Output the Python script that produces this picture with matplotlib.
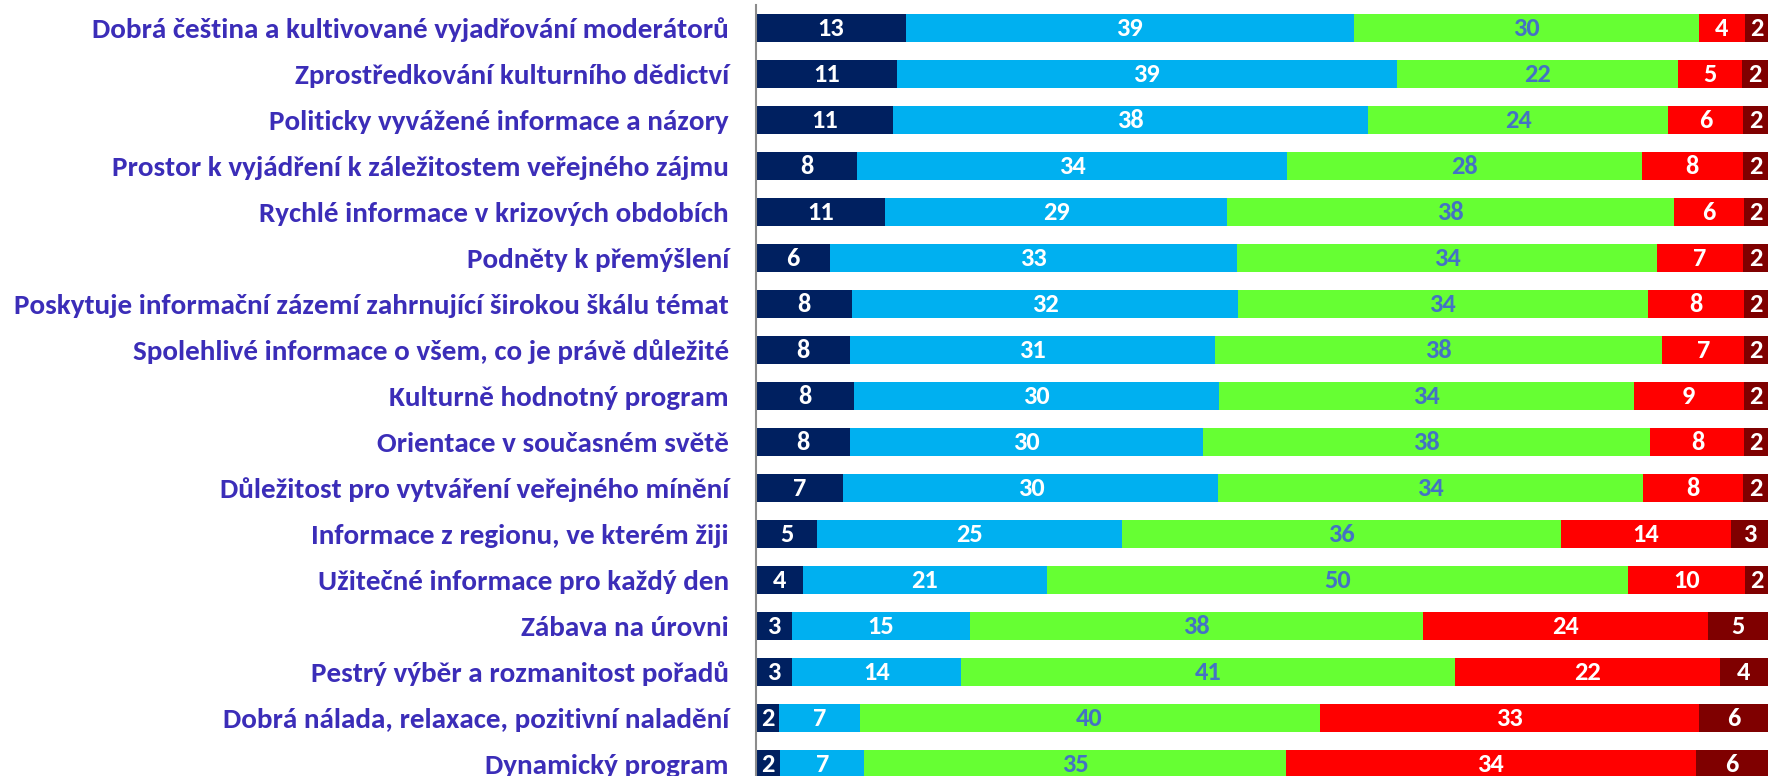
import matplotlib
matplotlib.use("Agg")
import matplotlib.pyplot as plt
from matplotlib import font_manager as fm
import numpy as np

categories = [
    "Dobrá čeština a kultivované vyjadřování moderátorů",
    "Zprostředkování kulturního dědictví",
    "Politicky vyvážené informace a názory",
    "Prostor k vyjádření k záležitostem veřejného zájmu",
    "Rychlé informace v krizových obdobích",
    "Podněty k přemýšlení",
    "Poskytuje informační zázemí zahrnující širokou škálu témat",
    "Spolehlivé informace o všem, co je právě důležité",
    "Kulturně hodnotný program",
    "Orientace v současném světě",
    "Důležitost pro vytváření veřejného mínění",
    "Informace z regionu, ve kterém žiji",
    "Užitečné informace pro každý den",
    "Zábava na úrovni",
    "Pestrý výběr a rozmanitost pořadů",
    "Dobrá nálada, relaxace, pozitivní naladění",
    "Dynamický program",
]
s1 = [13, 11, 11, 8, 11, 6, 8, 8, 8, 8, 7, 5, 4, 3, 3, 2, 2]
s2 = [39, 39, 38, 34, 29, 33, 32, 31, 30, 30, 30, 25, 21, 15, 14, 7, 7]
s3 = [30, 22, 24, 28, 38, 34, 34, 38, 34, 38, 34, 36, 50, 38, 41, 40, 35]
s4 = [4, 5, 6, 8, 6, 7, 8, 7, 9, 8, 8, 14, 10, 24, 22, 33, 34]
s5 = [2, 2, 2, 2, 2, 2, 2, 2, 2, 2, 2, 3, 2, 5, 4, 6, 6]

series = [s1, s2, s3, s4, s5]
colors = ["#002060", "#00B0F0", "#66FF33", "#FF0000", "#7F0000"]
text_colors = ["white", "white", "#4472C4", "white", "white"]

installed = {f.name for f in fm.fontManager.ttflist}
fam = [f for f in ["Carlito", "Liberation Sans Narrow", "IBM Plex Sans Condensed"] if f in installed] + ["DejaVu Sans"]

W, H = 1768, 776
fig = plt.figure(figsize=(W / 100, H / 100), dpi=100)
pitch = 46
top = 5
n = len(categories)
ax_h = n * pitch
ax = fig.add_axes([756 / W, (H - top - ax_h) / H, 1012 / W, ax_h / H])

data = np.array(series, dtype=float)
totals = data.sum(axis=0)
frac = data / totals

y = np.arange(n)
left = np.zeros(n)
for k in range(len(series)):
    ax.barh(y, frac[k], left=left, height=28 / 46, color=colors[k], edgecolor="none")
    for i in range(n):
        ax.text(left[i] + frac[k][i] / 2, y[i] + 0.02, str(series[k][i]), ha="center", va="center",
                color=text_colors[k], fontsize=19, fontweight="bold", family=fam)
    left += frac[k]

ax.set_xlim(0, 1)
ax.set_ylim(n - 0.5, -0.5)
ax.set_yticks(y)
ax.set_yticklabels(categories, fontsize=21, fontweight="bold", color="#3B2DB8", family=fam)
ax.tick_params(axis="y", length=0, pad=19.5)
ax.set_xticks([])
for s in ["top", "right", "bottom"]:
    ax.spines[s].set_visible(False)
ax.spines["left"].set_color("#8C8C8C")
ax.spines["left"].set_linewidth(1.5)

fig.savefig("out.png", dpi=100)
